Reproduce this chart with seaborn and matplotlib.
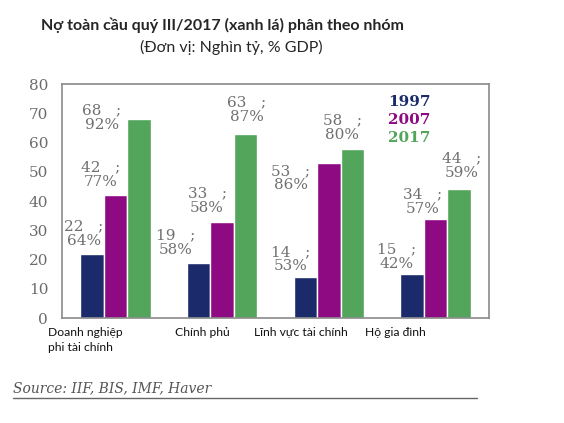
import pandas as pd
import seaborn as sns
import matplotlib.pyplot as plt

categories = ["Doanh nghiệp\nphi tài chính", "Chính phủ", "Lĩnh vực tài chính", "Hộ gia đình"]
years = ["1997", "2007", "2017"]
debt_1997 = [22, 19, 14, 15]
debt_2007 = [42, 33, 53, 34]
debt_2017 = [68, 63, 58, 44]
gdp_1997 = [64, 58, 53, 42]
gdp_2007 = [77, 58, 86, 57]
gdp_2017 = [92, 87, 80, 59]

colors = ["#1b2a6b", "#8e0a82", "#52a55a"]

rows = []
for yr, vals, pcts in zip(years, [debt_1997, debt_2007, debt_2017], [gdp_1997, gdp_2007, gdp_2017]):
    for cat, v, p in zip(categories, vals, pcts):
        rows.append({"cat": cat, "year": yr, "debt": v, "gdp": p})
df = pd.DataFrame(rows)

sns.set_style("white")
plt.rcParams["font.family"] = ["Lato", "DejaVu Sans"]

fig = plt.figure(figsize=(5.64, 4.23), dpi=100)
ax = fig.add_axes([0.110, 0.248, 0.757, 0.553])

sns.barplot(data=df, x="cat", y="debt", hue="year", palette=colors, width=0.66,
            saturation=1, legend=False, ax=ax)

ax.set_ylim(0, 80)
ax.set_xlim(-0.5, 3.5)
ax.set_yticks(range(0, 81, 10))
ax.set_yticklabels([str(t) for t in range(0, 81, 10)], family="DejaVu Serif",
                   fontsize=11, color="#6b6b6b")
ax.tick_params(axis="y", length=0, pad=10)
ax.set_xticks([])
ax.set_xlabel("")
ax.set_ylabel("")
for s in ax.spines.values():
    s.set_color("#8a8a8a")
    s.set_linewidth(1.2)

# value labels: offset (px) from top centre of each bar, per category then year
label_offsets = [
    [(-8, 20), (-15, 21), (-37, 2)],
    [(-23, 20), (-15, 21), (1, 24)],
    [(-15, 18), (-38, -15), (-10, 21)],
    [(-16, 18), (-13, 17), (3, 24)],
]
for j, cont in enumerate(ax.containers):
    yr = years[j]
    for i, bar in enumerate(cont):
        r = df[(df["year"] == yr) & (df["cat"] == categories[i])].iloc[0]
        dx, dy = label_offsets[i][j]
        ax.annotate(f"{r['debt']}   ;\n{r['gdp']}%",
                    (bar.get_x() + bar.get_width() / 2, bar.get_height()),
                    xytext=(dx, dy), textcoords="offset pixels",
                    ha="center", va="center", family="DejaVu Serif",
                    fontsize=11, color="#707070", linespacing=1.05)

# legend as coloured year labels
for k, yr in enumerate(years):
    ax.text(0.813, 0.923 - k * 0.077, yr, transform=ax.transAxes, ha="center",
            va="center", color=colors[k], family="DejaVu Serif",
            fontsize=11, fontweight="bold")

# category labels under the axis
cat_shift = [-67, -47, -75, -71]
for i, cat in enumerate(categories):
    ax.annotate(cat, (i, 0), xycoords=("data", "axes fraction"),
                xytext=(cat_shift[i], -9), textcoords="offset pixels",
                ha="left", va="top", fontsize=8.7, color="#111111",
                linespacing=1.4)

fig.text(0.395, 0.941, "Nợ toàn cầu quý III/2017 (xanh lá) phân theo nhóm",
         ha="center", va="center", fontsize=11.5, fontweight="bold")
fig.text(0.41, 0.887, "(Đơn vị: Nghìn tỷ, % GDP)", ha="center", va="center",
         fontsize=11.5)

fig.text(0.023, 0.083, "Source: IIF, BIS, IMF, Haver", ha="left", va="center",
         family="DejaVu Serif", style="italic", fontsize=10, color="#555555")
fig.add_artist(plt.Line2D([0.023, 0.846], [0.059, 0.059], transform=fig.transFigure,
                          color="#666666", lw=1))

fig.savefig("out.png", dpi=100)
